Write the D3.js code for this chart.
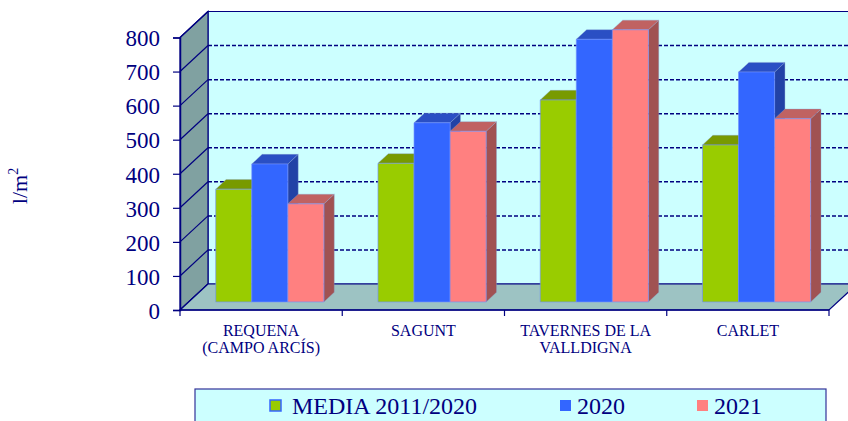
<!DOCTYPE html>
<html>
<head>
<meta charset="utf-8">
<script src="https://cdn.jsdelivr.net/npm/d3@7"></script>
<style>
    body { margin: 0; background: #fff; }
    text { font-family: "Liberation Serif", "Times New Roman", serif; fill: #000080; }
</style>
</head>
<body>
<div id="main"></div>
<script>
const ctx = {
    w: 848,
    h: 421,
};

// data (l/m2)
const categories = ["REQUENA (CAMPO ARCÍS)", "SAGUNT", "TAVERNES DE LA VALLDIGNA", "CARLET"];
const categoryLabels = [["REQUENA", "(CAMPO ARCÍS)"], ["SAGUNT"], ["TAVERNES DE LA", "VALLDIGNA"], ["CARLET"]];
const seriesNames = ["MEDIA 2011/2020", "2020", "2021"];
const media = [331, 407, 593, 461];
const values2020 = [405, 526, 771, 675];
const values2021 = [288, 501, 799, 538];
const yTicks = [0, 100, 200, 300, 400, 500, 600, 700, 800];

const seriesValues = [media, values2020, values2021];
const colors = {
    front: ["#99cc00", "#3366ff", "#ff8080"],
    top: ["#789a00", "#2a4fc4", "#c06262"],
    side: ["#5f7a00", "#2242a6", "#a05252"],
};

const navy = "#000080";
const DX = 28, DY = 26;      // depth of the floor
const Z0 = 0.31, Z1 = 0.68;  // depth of the bars

function createChart(svg) {
    let x = d3.scaleBand()
        .domain(categories)
        .range([180, 829]);

    let inner = d3.scaleBand()
        .domain(seriesNames)
        .range([0, x.bandwidth()])
        .paddingOuter(0.75);

    let y = d3.scaleLinear()
        .domain([0, 800])
        .range([310, 37.5]);

    let proj = (px, z, v) => [px + z * DX, y(v) - z * DY];
    let poly = pts => "M" + pts.map(p => p.join(",")).join("L") + "Z";

    let x0 = x.range()[0], x1 = x.range()[1];

    // back wall
    svg.append("path")
        .attr("d", poly([proj(x0, 1, 0), proj(x1, 1, 0), proj(x1, 1, 800), proj(x0, 1, 800)]))
        .attr("fill", "#ccffff")
        .attr("stroke", navy)
        .attr("stroke-width", 1.2);

    // dashed gridlines on back wall
    svg.append("g").selectAll("line")
        .data(yTicks.filter(t => t > 0 && t < 800))
        .join("line")
        .attr("x1", x0 + DX).attr("x2", x1 + DX)
        .attr("y1", d => y(d) - DY).attr("y2", d => y(d) - DY)
        .attr("stroke", navy)
        .attr("stroke-width", 1.5)
        .attr("stroke-dasharray", "4,2");

    // left wall
    svg.append("path")
        .attr("d", poly([proj(x0, 0, 0), proj(x0, 1, 0), proj(x0, 1, 800), proj(x0, 0, 800)]))
        .attr("fill", "#80a1a1")
        .attr("stroke", navy)
        .attr("stroke-width", 1.2);

    svg.append("g").selectAll("line")
        .data(yTicks)
        .join("line")
        .attr("x1", x0).attr("x2", x0 + DX)
        .attr("y1", d => y(d)).attr("y2", d => y(d) - DY)
        .attr("stroke", navy)
        .attr("stroke-width", 1.2);

    // floor
    svg.append("path")
        .attr("d", poly([proj(x0, 0, 0), proj(x1, 0, 0), proj(x1, 1, 0), proj(x0, 1, 0)]))
        .attr("fill", "#9dc3c3")
        .attr("stroke", navy)
        .attr("stroke-width", 1.2);

    // bars
    categories.forEach((c, i) => {
        seriesNames.forEach((s, j) => {
            let v = seriesValues[j][i];
            let xl = x(c) + inner(s);
            let xr = xl + inner.bandwidth();
            let g = svg.append("g");
            g.append("path")
                .attr("d", poly([proj(xr, Z0, 0), proj(xr, Z1, 0), proj(xr, Z1, v), proj(xr, Z0, v)]))
                .attr("fill", colors.side[j])
                .attr("stroke", "#8aa0d0").attr("stroke-width", 0.6).attr("stroke-opacity", 0.6);
            g.append("path")
                .attr("d", poly([proj(xl, Z0, v), proj(xr, Z0, v), proj(xr, Z1, v), proj(xl, Z1, v)]))
                .attr("fill", colors.top[j])
                .attr("stroke", "#8aa0d0").attr("stroke-width", 0.6).attr("stroke-opacity", 0.6);
            g.append("path")
                .attr("d", poly([proj(xl, Z0, 0), proj(xr, Z0, 0), proj(xr, Z0, v), proj(xl, Z0, v)]))
                .attr("fill", colors.front[j])
                .attr("stroke", "#6f8fff").attr("stroke-width", 0.8).attr("stroke-opacity", 0.8);
        });
    });

    // y axis
    let yAxis = svg.append("g")
        .attr("transform", "translate(" + x0 + ",0)")
        .call(d3.axisLeft(y).tickValues(yTicks).tickSize(7).tickPadding(13));
    yAxis.select(".domain").attr("stroke", navy).attr("stroke-width", 1.5);
    yAxis.selectAll(".tick line").attr("stroke", navy).attr("stroke-width", 1.2);
    yAxis.selectAll(".tick text")
        .attr("fill", navy)
        .attr("dy", "0.36em")
        .style("font-family", '"Liberation Serif", serif')
        .style("font-size", "23px");

    // x axis
    svg.append("line")
        .attr("x1", x0).attr("x2", x1)
        .attr("y1", y(0)).attr("y2", y(0))
        .attr("stroke", navy).attr("stroke-width", 1.5);
    svg.append("g").selectAll("line")
        .data(categories.map(c => x(c)).concat([x1]))
        .join("line")
        .attr("x1", d => d).attr("x2", d => d)
        .attr("y1", y(0)).attr("y2", y(0) + 6)
        .attr("stroke", navy).attr("stroke-width", 1.2);

    svg.append("g").selectAll("text")
        .data(categories)
        .join("text")
        .attr("x", d => x(d) + x.bandwidth() / 2)
        .attr("y", 336)
        .attr("text-anchor", "middle")
        .style("font-size", "16px")
        .selectAll("tspan")
        .data((d, i) => categoryLabels[i])
        .join("tspan")
        .attr("x", function() { return this.parentNode.getAttribute("x"); })
        .attr("dy", (d, k) => k === 0 ? 0 : 17)
        .text(d => d);

    // y title
    let title = svg.append("text")
        .attr("transform", "translate(27,186) rotate(-90)")
        .attr("text-anchor", "middle")
        .style("font-size", "22px");
    title.append("tspan").text("l/m");
    title.append("tspan").attr("dy", -9).style("font-size", "14px").text("2");

    // legend
    let legend = svg.append("g");
    legend.append("rect")
        .attr("x", 195).attr("y", 389)
        .attr("width", 631).attr("height", 40)
        .attr("fill", "#ccffff")
        .attr("stroke", "#333399")
        .attr("stroke-width", 1.2);
    const legendX = [270, 560, 697];
    seriesNames.forEach((s, j) => {
        legend.append("rect")
            .attr("x", legendX[j]).attr("y", 400)
            .attr("width", 11).attr("height", 11)
            .attr("fill", colors.front[j])
            .attr("stroke", j === 0 ? "#3366ff" : "none")
            .attr("stroke-width", 1.5);
        legend.append("text")
            .attr("x", legendX[j] + (j === 0 ? 22 : 17))
            .attr("y", 414)
            .style("font-size", "24px")
            .text(s);
    });
}

function createViz() {
    let svgEl = d3.select("#main").append("svg");
    svgEl.attr("width", ctx.w);
    svgEl.attr("height", ctx.h);
    createChart(svgEl);
}

createViz();
</script>
</body>
</html>
